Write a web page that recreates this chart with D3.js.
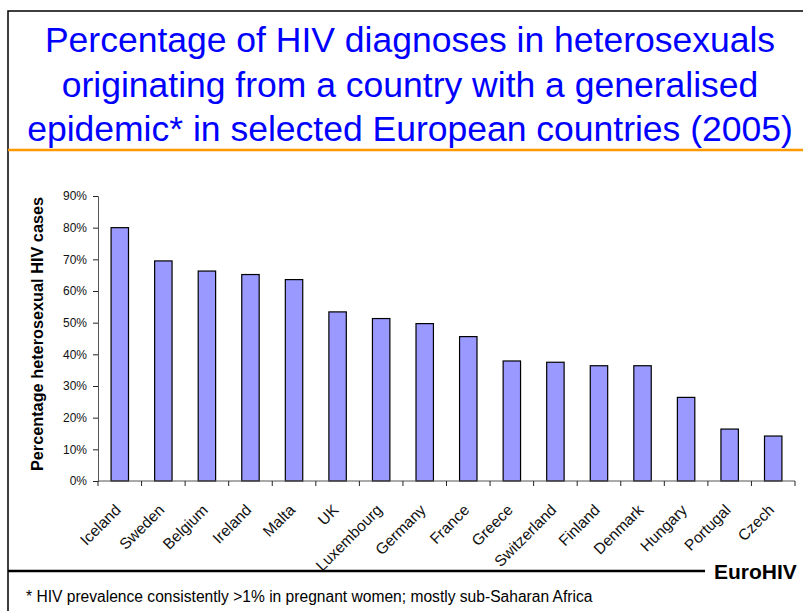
<!DOCTYPE html>
<html><head><meta charset="utf-8">
<script src="https://cdn.jsdelivr.net/npm/d3@7"></script>
<style>body{margin:0;background:#fff}svg{display:block}</style>
</head><body>
<svg id="c" width="803" height="611"></svg>
<script>
const countries = ["Iceland","Sweden","Belgium","Ireland","Malta","UK","Luxembourg","Germany","France","Greece","Switzerland","Finland","Denmark","Hungary","Portugal","Czech"];
const percentages = [80, 69.5, 66.3, 65.2, 63.6, 53.4, 51.3, 49.7, 45.6, 37.9, 37.5, 36.4, 36.4, 26.4, 16.4, 14.2];
const yTicks = [0,10,20,30,40,50,60,70,80,90];
const titleLines = ["Percentage of HIV diagnoses in heterosexuals","originating from a country with a generalised","epidemic* in selected European countries (2005)"];
const yTitle = "Percentage heterosexual HIV cases";
const footnote = "* HIV prevalence consistently >1% in pregnant women; mostly sub-Saharan Africa";
const brand = "EuroHIV";

const svg = d3.select("#c");
const F = "'Liberation Sans', Arial, Helvetica, sans-serif";

// frame
svg.append("rect").attr("x",8).attr("y",11).attr("width",830).attr("height",640)
  .attr("fill","none").attr("stroke","#000").attr("stroke-width",1.5);
svg.append("line").attr("x1",8).attr("x2",803).attr("y1",150).attr("y2",150)
  .attr("stroke","#FF9900").attr("stroke-width",2.5);

// title
svg.append("g").selectAll("text").data(titleLines).join("text")
  .attr("x",410).attr("y",(d,i)=>52+i*44.5).attr("text-anchor","middle")
  .attr("font-family",F).attr("font-size",35.5).attr("fill","#0000FF").text(d=>d);

// scales
const x = d3.scaleBand().domain(countries).range([98,795]).paddingInner(0.6).paddingOuter(0.3);
const y = d3.scaleLinear().domain([0,90]).range([481,196]);

// bars
svg.append("g").selectAll("rect").data(countries).join("rect")
  .attr("x",d=>x(d)).attr("width",x.bandwidth())
  .attr("y",(d,i)=>y(percentages[i])).attr("height",(d,i)=>y(0)-y(percentages[i]))
  .attr("fill","#9999FF").attr("stroke","#000").attr("stroke-width",1.2);

// y axis
const ya = svg.append("g").attr("transform","translate(98,0)")
  .call(d3.axisLeft(y).tickValues(yTicks).tickFormat(d=>d+"%").tickSize(5).tickPadding(6));
ya.select(".domain").attr("stroke","#555");
ya.selectAll(".tick line").attr("stroke","#222");
ya.selectAll("text").attr("font-family",F).attr("font-size",12).attr("fill","#111");

// x axis (ticks between categories)
const xa = svg.append("g").attr("transform","translate(0,481)");
xa.append("line").attr("x1",98).attr("x2",795).attr("stroke","#555");
const bounds = d3.range(countries.length+1).map(i=>98 + i*(697/countries.length));
xa.selectAll("line.t").data(bounds).join("line").attr("class","t")
  .attr("x1",d=>d).attr("x2",d=>d).attr("y1",0).attr("y2",5).attr("stroke","#222");
svg.append("g").selectAll("text").data(countries).join("text")
  .attr("transform",d=>`translate(${x(d)+x.bandwidth()/2+2},511) rotate(-45)`)
  .attr("text-anchor","end").attr("font-family",F).attr("font-size",15.5).attr("fill","#111")
  .text(d=>d);

// y title
svg.append("text").attr("transform","translate(43,334) rotate(-90)")
  .attr("text-anchor","middle").attr("font-family",F).attr("font-weight","bold")
  .attr("font-size",16.3).attr("fill","#000").text(yTitle);

// bottom line + brand
svg.append("line").attr("x1",8).attr("x2",705).attr("y1",571).attr("y2",571)
  .attr("stroke","#000").attr("stroke-width",2.5);
svg.append("text").attr("x",714).attr("y",579).attr("font-family",F).attr("font-weight","bold")
  .attr("font-size",21).attr("fill","#000").text(brand);
svg.append("text").attr("x",26).attr("y",602).attr("font-family",F)
  .attr("font-size",15.6).attr("fill","#000").text(footnote);
</script>
</body></html>
